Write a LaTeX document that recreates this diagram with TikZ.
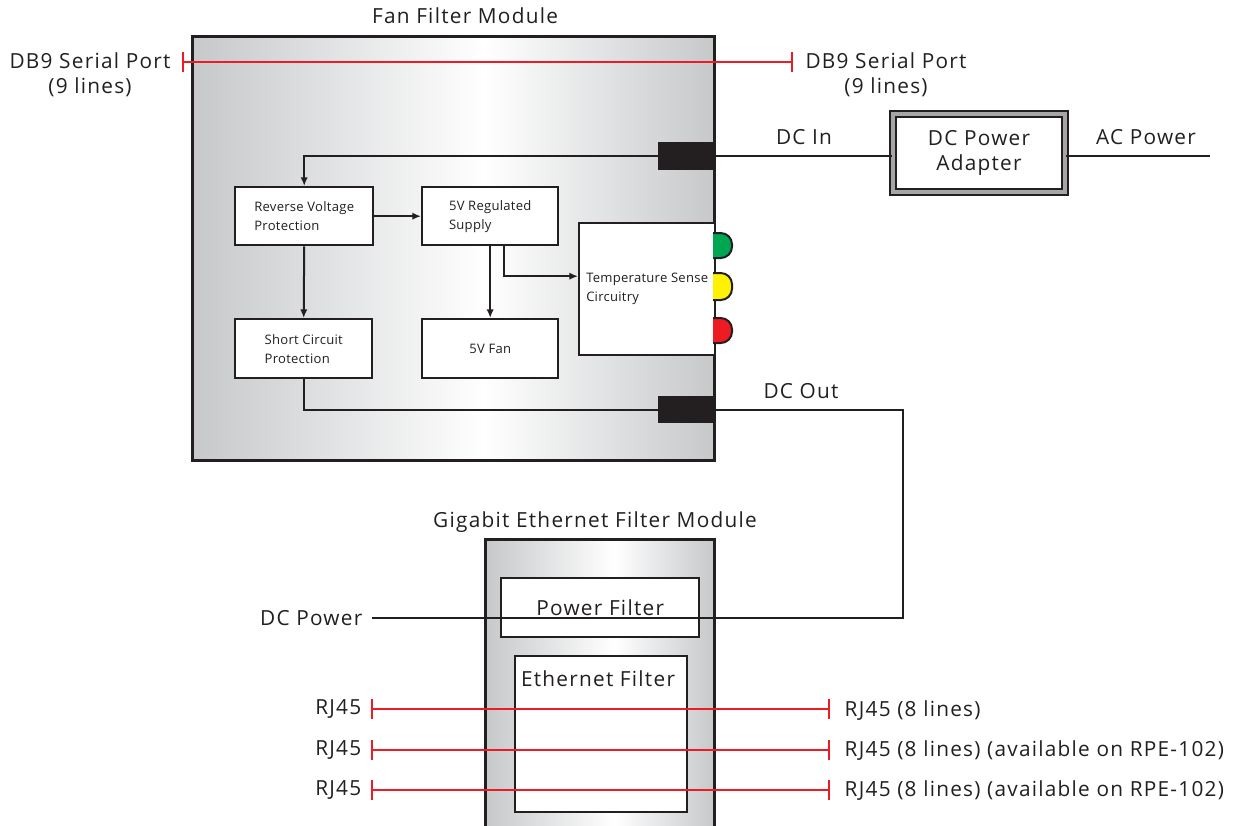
\documentclass[tikz,border=0pt]{standalone}
\usepackage{fontspec}
\setmainfont{Open Sans}[LetterSpace=6]
\newfontfamily\smallfam{Open Sans}[LetterSpace=2]
\usetikzlibrary{arrows.meta,calc}
\definecolor{edgegray}{RGB}{198,200,202}
\definecolor{ink}{RGB}{35,31,32}
\definecolor{linered}{RGB}{237,28,36}
\definecolor{ledgreen}{RGB}{0,166,81}
\definecolor{ledyellow}{RGB}{255,242,0}
\pgfdeclarehorizontalshading{panelshade}{100bp}{color(0bp)=(edgegray); color(25bp)=(edgegray); color(53bp)=(white); color(75bp)=(edgegray); color(100bp)=(edgegray)}
\tikzset{
 bigtxt/.style={font=\fontsize{15.6}{18.75}\selectfont, text=ink},
 smalltxt/.style={font=\smallfam\fontsize{9.8}{14.25}\selectfont, text=ink},
 panel/.style={draw=ink, line width=2.25pt, shading=panelshade, anchor=north west, inner sep=0pt},
 block/.style={draw=ink, line width=1.8pt, fill=white, anchor=north west, inner sep=0pt, smalltxt, align=left},
 wire/.style={draw=ink, line width=1.5pt},
 arrowwire/.style={wire, -{Latex[length=6.5pt,width=5.5pt]}},
 redline/.style={draw=linered, line width=1.5pt, {Bar[width=15pt,line width=1.5pt]}-{Bar[width=15pt,line width=1.5pt]}},
 port/.style={fill=ink, draw=none, inner sep=0pt, anchor=north west},
 led/.style={draw=ink, line width=1.5pt, rounded corners=8.5pt},
}
\begin{document}
\begin{tikzpicture}[x=0.75pt,y=-0.75pt]
\useasboundingbox (0,0) rectangle (1241,825);
\clip (0,0) rectangle (1241,825);
% panels
\node[panel, minimum width=391.5pt, minimum height=318pt] (ffm) at (191,35) {};
\node[bigtxt] (ffmtitle) at (465,16) {Fan Filter Module};
\node[panel, minimum width=171.75pt, minimum height=225pt] (gefm) at (484,538) {};
\node[bigtxt] (gefmtitle) at (595,522) {Gigabit Ethernet Filter Module};
% blocks
\node[block, minimum width=103.5pt, minimum height=43.5pt] (rvp) at (234,186) {Reverse Voltage\\Protection};
\node[block, minimum width=102pt, minimum height=43.5pt] (reg) at (421,186) {5V Regulated\\Supply};
\node[block, minimum width=102.75pt, minimum height=44.25pt] (scp) at (234,318) {Short Circuit\\Protection};
\node[block, minimum width=102pt, minimum height=44.25pt, align=center] (fan) at (421,318) {5V Fan};
\node[block, minimum width=102pt, minimum height=99pt] (temp) at (578,222) {Temperature Sense\\Circuitry};
\node[port, minimum width=41.25pt, minimum height=21pt] (dcin) at (658,142) {};
\node[port, minimum width=41.25pt, minimum height=20.25pt] (dcout) at (658,396) {};
% LEDs
\draw[led, fill=ledgreen] (713,233) -- (732,233) -- (732,258) -- (713,258);
\draw[led, fill=ledyellow] (713,273) -- (732,273) -- (732,300) -- (713,300);
\draw[led, fill=linered] (713,318) -- (732,318) -- (732,343) -- (713,343);
% adapter
\node[draw=ink, line width=1.3pt, double=gray!70, double distance=3pt, fill=white, minimum width=129pt, minimum height=58.5pt, bigtxt, align=center] (adapter) at (979,153) {DC Power\\Adapter};
% gigabit inner
\node[block, minimum width=148.5pt, minimum height=44.25pt, bigtxt, align=center] (pf) at (500,577) {Power Filter};
\node[block, minimum width=129pt, minimum height=117pt] (ef) at (514,655) {};
\node[bigtxt] (eflbl) at (598,679) {Ethernet Filter};
% labels
\node[bigtxt] (dcinlbl) at (804,137) {DC In};
\node[bigtxt] (aclbl) at (1146,137) {AC Power};
\node[bigtxt] (dcoutlbl) at (801,391) {DC Out};
\node[bigtxt, anchor=east] (dcplbl) at (367,618) {DC Power};
\node[bigtxt, align=center] (db9l) at (90,75) {DB9 Serial Port\\(9 lines)};
\node[bigtxt, align=center] (db9r) at (886,75) {DB9 Serial Port\\(9 lines)};
\node[bigtxt, anchor=east] (rjl1) at (366,709) {RJ45};
\node[bigtxt, anchor=east] (rjl2) at (366,750) {RJ45};
\node[bigtxt, anchor=east] (rjl3) at (366,790) {RJ45};
\node[bigtxt, anchor=west] (rjr1) at (840,711) {RJ45 (8 lines)};
\node[bigtxt, anchor=west] (rjr2) at (840,751) {RJ45 (8 lines) (available on RPE-102)};
\node[bigtxt, anchor=west] (rjr3) at (840,791) {RJ45 (8 lines) (available on RPE-102)};
\coordinate (db9a) at (182,62);
\coordinate (db9b) at (793,62);
\coordinate (acend) at (1210,155);
\coordinate (turn) at (903,618);
% wires
\draw[wire] (dcin.east) -- (dcin.east -| adapter.west);
\draw[wire] (dcin.east -| adapter.east) -- (dcin.east -| acend);
\draw[arrowwire] (dcin.west) -| (rvp.north);
\draw[arrowwire] (rvp.east) -- (reg.west);
\draw[arrowwire] (rvp.south) -- (scp.north);
\draw[arrowwire] (reg.south) -- (fan.north);
\draw[arrowwire] ([xshift=10.5pt]reg.south) |- ([yshift=9.75pt]temp.west);
\draw[wire] (scp.south) |- (dcout.west);
\draw[wire] (dcout.east) -| (turn) -- ([xshift=3.75pt]dcplbl.east);
% red lines
\draw[redline] (db9a) -- (db9b);
\draw[redline] ([xshift=3.75pt]rjl1.east) -- ([xshift=-7.5pt]rjl1.east -| rjr1.west);
\draw[redline] ([xshift=3.75pt]rjl2.east) -- ([xshift=-7.5pt]rjl2.east -| rjr2.west);
\draw[redline] ([xshift=3.75pt]rjl3.east) -- ([xshift=-7.5pt]rjl3.east -| rjr3.west);
\end{tikzpicture}
\end{document}
